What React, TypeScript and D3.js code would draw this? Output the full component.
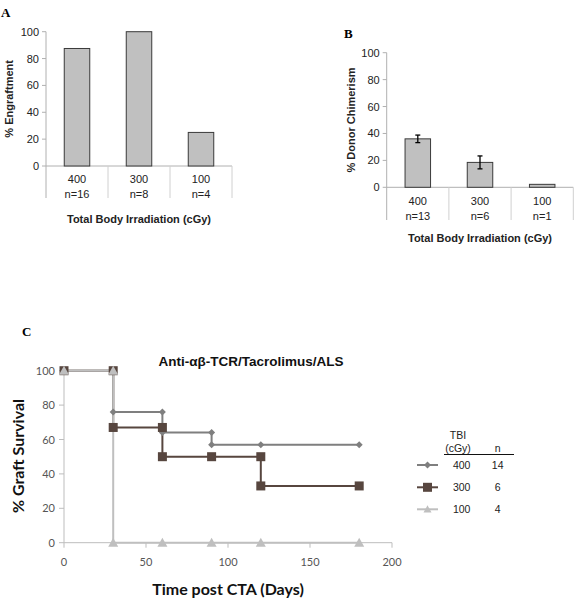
import React from "react";
import * as d3 from "d3";

const catsA = ["400", "300", "100"];
const nA = ["n=16", "n=8", "n=4"];
const valsA = [87.5, 100, 25];

const catsB = ["400", "300", "100"];
const nB = ["n=13", "n=6", "n=1"];
const valsB = [36, 18.5, 2.2];
const errB = [2.8, 4.8, 0];

const yTicksAB = [0, 20, 40, 60, 80, 100];
const xTicksC = [0, 50, 100, 150, 200];

const s400x = [0, 30, 30, 60, 60, 90, 90, 120, 180];
const s400y = [100, 100, 76, 76, 64, 64, 57, 57, 57];
const s300x = [0, 30, 30, 60, 60, 90, 120, 120, 180];
const s300y = [100, 100, 67, 67, 50, 50, 50, 33, 33];
const s100x = [0, 30, 30, 60, 90, 120, 180];
const s100y = [100, 100, 0, 0, 0, 0, 0];

const legendTBI = ["400", "300", "100"];
const legendN = ["14", "6", "4"];

const ARIAL = "'Liberation Sans', Arial, sans-serif";
const CAL = "Lato, 'Open Sans', sans-serif";

function BarPanel({ x0, x1, y0, y1, cats, ns, vals, errs, divBottom, lblY, nY, titleY, ytitle, ytitleX, letter, letterX, letterY }: any) {
  const y = d3.scaleLinear().domain([0, 100]).range([y0, y1]);
  const x = d3.scaleBand().domain(cats).range([x0, x1]).paddingInner(0).paddingOuter(0);
  const bw = 25.5;
  const axisCol = "#b0b0b0";
  return (
    <g>
      <text x={letterX} y={letterY} fontFamily="'Liberation Serif', Times, serif" fontWeight="bold" fontSize={13}>{letter}</text>
      {yTicksAB.map((t) => (
        <g key={t}>
          <line x1={x0 - 4} x2={x0} y1={y(t)} y2={y(t)} stroke={axisCol} />
          <text x={x0 - 7} y={y(t) + 4} textAnchor="end" fontFamily={ARIAL} fontSize={11} fill="#222">{t}</text>
        </g>
      ))}
      <line x1={x0} x2={x0} y1={y1} y2={divBottom} stroke={axisCol} />
      <line x1={x0} x2={x1} y1={y0} y2={y0} stroke={axisCol} />
      {cats.map((c: string, i: number) => (
        <line key={c} x1={(x(c) as number) + x.bandwidth()} x2={(x(c) as number) + x.bandwidth()} y1={y0} y2={divBottom} stroke="#d0d0d0" />
      ))}
      {cats.map((c: string, i: number) => {
        const cx = (x(c) as number) + x.bandwidth() / 2;
        return (
          <g key={c}>
            <rect x={cx - bw / 2} y={y(vals[i])} width={bw} height={y0 - y(vals[i])} fill="#c0c0c0" stroke="#3a3a3a" strokeWidth={1} />
            {errs && errs[i] > 0 && (
              <g stroke="#000" strokeWidth={1.3}>
                <line x1={cx} x2={cx} y1={y(vals[i] + errs[i])} y2={y(vals[i] - errs[i])} />
                <line x1={cx - 2.5} x2={cx + 2.5} y1={y(vals[i] + errs[i])} y2={y(vals[i] + errs[i])} />
                <line x1={cx - 2.5} x2={cx + 2.5} y1={y(vals[i] - errs[i])} y2={y(vals[i] - errs[i])} />
              </g>
            )}
            <text x={cx} y={lblY} textAnchor="middle" fontFamily={ARIAL} fontSize={11} fill="#222">{c}</text>
            <text x={cx} y={nY} textAnchor="middle" fontFamily={ARIAL} fontSize={11} fill="#222">{ns[i]}</text>
          </g>
        );
      })}
      <text x={(x0 + x1) / 2} y={titleY} textAnchor="middle" fontFamily={ARIAL} fontWeight="bold" fontSize={11} fill="#222">Total Body Irradiation (cGy)</text>
      <text transform={`translate(${ytitleX},${(y0 + y1) / 2}) rotate(-90)`} textAnchor="middle" fontFamily={ARIAL} fontWeight="bold" fontSize={11} fill="#222">{ytitle}</text>
    </g>
  );
}

function diamond(cx: number, cy: number, r: number) {
  return `M${cx},${cy - r}L${cx + r},${cy}L${cx},${cy + r}L${cx - r},${cy}Z`;
}
function tri(cx: number, cy: number, r: number) {
  return `M${cx},${cy - r}L${cx + r},${cy + r * 0.8}L${cx - r},${cy + r * 0.8}Z`;
}

function PanelC() {
  const x = d3.scaleLinear().domain([0, 200]).range([64, 392]);
  const y = d3.scaleLinear().domain([0, 100]).range([542.7, 370.7]);
  const ax = "#bdbdbd";
  const line = d3.line<number>().x((d, i) => 0).y(() => 0);
  const path = (xs: number[], ys: number[]) =>
    d3.line<number>().x((d) => x(d)).y((d, i) => y(ys[i]))(xs) as string;
  const c400 = "#7f7f7f";
  const c300 = "#57463f";
  const c100 = "#bfbfbf";
  return (
    <g>
      <text x={22} y={336} fontFamily="'Liberation Serif', Times, serif" fontWeight="bold" fontSize={13}>C</text>
      <text x={251} y={366} textAnchor="middle" fontFamily={ARIAL} fontWeight="bold" fontSize={13.5} fill="#111">Anti-αβ-TCR/Tacrolimus/ALS</text>
      {yTicksAB.map((t) => (
        <g key={t}>
          <line x1={59} x2={64} y1={y(t)} y2={y(t)} stroke={ax} />
          <text x={55} y={y(t) + 4} textAnchor="end" fontFamily={CAL} fontSize={11} fill="#555">{t}</text>
        </g>
      ))}
      {xTicksC.map((t) => (
        <g key={t}>
          <line x1={x(t)} x2={x(t)} y1={y(0)} y2={y(0) + 5} stroke={ax} />
          <text x={x(t)} y={566} textAnchor="middle" fontFamily={CAL} fontSize={11} fill="#555">{t}</text>
        </g>
      ))}
      <line x1={64} x2={64} y1={y(100)} y2={y(0)} stroke={ax} />
      <line x1={64} x2={392} y1={y(0)} y2={y(0)} stroke={ax} />
      <path d={path(s400x, s400y)} fill="none" stroke={c400} strokeWidth={2} />
      <path d={path(s300x, s300y)} fill="none" stroke={c300} strokeWidth={2} />
      <path d={path(s100x, s100y)} fill="none" stroke={c100} strokeWidth={2} />
      {s400x.map((d, i) => (
        <path key={"d" + i} d={diamond(x(d), y(s400y[i]), 3.5)} fill={c400} />
      ))}
      {s300x.map((d, i) => (
        <rect key={"s" + i} x={x(d) - 4.5} y={y(s300y[i]) - 4.5} width={9} height={9} fill={c300} />
      ))}
      {s100x.map((d, i) => (
        <path key={"t" + i} d={tri(x(d), y(s100y[i]), 5)} fill={c100} />
      ))}
      <text x={228} y={595} textAnchor="middle" fontFamily={CAL} fontWeight="bold" fontSize={16} fill="#111">Time post CTA (Days)</text>
      <text transform={`translate(24,456) rotate(-90)`} textAnchor="middle" fontFamily={CAL} fontWeight="bold" fontSize={16} fill="#111">% Graft Survival</text>
      {/* legend */}
      <text x={458} y={439} textAnchor="middle" fontFamily={ARIAL} fontSize={10.5} fill="#222">TBI</text>
      <text x={458} y={452} textAnchor="middle" fontFamily={ARIAL} fontSize={10.5} fill="#222">(cGy)</text>
      <text x={497.7} y={452} textAnchor="middle" fontFamily={ARIAL} fontSize={10.5} fill="#222">n</text>
      <line x1={444} x2={514} y1={454.5} y2={454.5} stroke="#111" strokeWidth={1} />
      {legendTBI.map((t, i) => {
        const ly = [465, 487.3, 509.3][i];
        const col = [c400, c300, c100][i];
        return (
          <g key={t}>
            <line x1={417} x2={438} y1={ly} y2={ly} stroke={col} strokeWidth={2} />
            {i === 0 && <path d={diamond(427.5, ly, 3.5)} fill={col} />}
            {i === 1 && <rect x={423} y={ly - 4.5} width={9} height={9} fill={col} />}
            {i === 2 && <path d={tri(427.5, ly, 4)} fill={col} />}
            <text x={461.7} y={ly + 4} textAnchor="middle" fontFamily={ARIAL} fontSize={10.5} fill="#222">{t}</text>
            <text x={497.7} y={ly + 4} textAnchor="middle" fontFamily={ARIAL} fontSize={10.5} fill="#222">{legendN[i]}</text>
          </g>
        );
      })}
    </g>
  );
}

export default function App() {
  return (
    <svg width={574} height={599} style={{ position: "absolute", left: 0, top: 0, background: "#fff" }}>
      <rect width={574} height={599} fill="#fff" />
      <BarPanel x0={46} x1={232} y0={166} y1={31.7} cats={catsA} ns={nA} vals={valsA} errs={null}
        divBottom={198} lblY={183} nY={198} titleY={223} ytitle="% Engraftment" ytitleX={13}
        letter="A" letterX={1} letterY={17} />
      <BarPanel x0={386.7} x1={573.3} y0={187.3} y1={52.7} cats={catsB} ns={nB} vals={valsB} errs={errB}
        divBottom={220} lblY={204.5} nY={219.5} titleY={242} ytitle="% Donor Chimerism" ytitleX={355}
        letter="B" letterX={344} letterY={38} />
      <PanelC />
    </svg>
  );
}
